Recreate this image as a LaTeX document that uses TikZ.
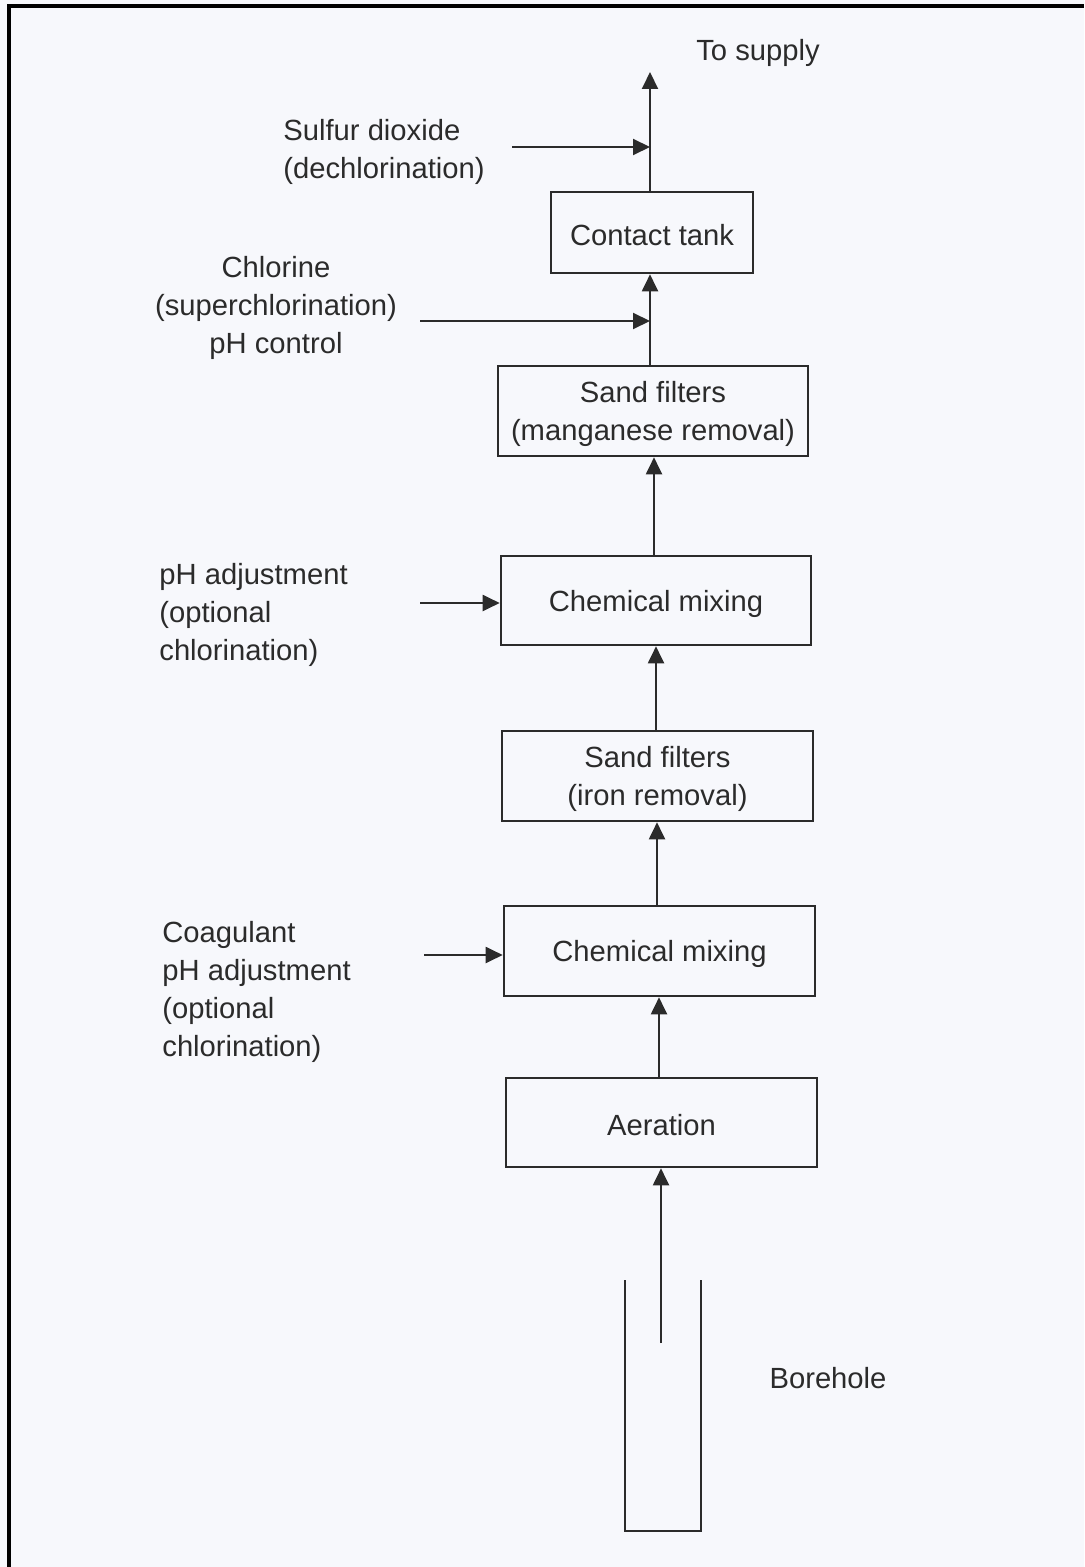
\documentclass[tikz,border=0pt]{standalone}
\usepackage{fontspec}
\setmainfont{Liberation Sans}
\usetikzlibrary{arrows.meta}
\definecolor{bg}{HTML}{F7F8FC}
\definecolor{ink}{HTML}{2B2B2B}
\begin{document}
\begin{tikzpicture}[x=0.5pt,y=-0.5pt,
  txt/.style={font=\fontsize{14.6}{19}\selectfont, text=ink, inner sep=0pt, yshift=-1.5pt},
  box/.style={draw=ink, line width=1.3pt, inner sep=0pt},
  inbox/.style={label={[txt,align=center]center:{#1}}},
  arr/.style={draw=ink, line width=1pt, -{Triangle[length=8.5pt,width=8pt]}},
  ln/.style={draw=ink, line width=1pt}]
\fill[bg] (0,0) rectangle (1084,1567);
\useasboundingbox (0,0) rectangle (1084,1567);
\draw[line width=1.6pt, black] (9,1567) -- (9,6) -- (1084,6);

% boxes
\node[box, minimum width=101pt, minimum height=40.5pt, inbox={Contact tank}] (ct) at (652,232.5) {};
\node[box, minimum width=155pt, minimum height=45pt, inbox={Sand filters\\(manganese removal)}] (sf1) at (653,411) {};
\node[box, minimum width=155pt, minimum height=44.5pt, inbox={Chemical mixing}] (cm1) at (656,600.5) {};
\node[box, minimum width=155.5pt, minimum height=45pt, inbox={Sand filters\\(iron removal)}] (sf2) at (657.5,776) {};
\node[box, minimum width=155.5pt, minimum height=45pt, inbox={Chemical mixing}] (cm2) at (659.5,951) {};
\node[box, minimum width=155.5pt, minimum height=44.5pt, inbox={Aeration}] (aer) at (661.5,1122.5) {};

% labels
\node[txt] (sup) at (758,50) {To supply};
\node[txt, anchor=west, align=left] (so2) at (283,148.5) {Sulfur dioxide\\(dechlorination)};
\node[txt, align=center] (cl) at (276,304.5) {Chlorine\\(superchlorination)\\pH control};
\node[txt, anchor=west, align=left] (ph1) at (159,611.5) {pH adjustment\\(optional\\chlorination)};
\node[txt, anchor=west, align=left] (coag) at (162,988.5) {Coagulant\\pH adjustment\\(optional\\chlorination)};
\node[txt] (bh) at (828,1375) {Borehole};

% main flow
\coordinate (top) at (650,72);
\draw[arr] (ct.north -| top) -- (top);
\draw[arr] (sf1.north -| 650,0) -- (650,0 |- ct.south);
\draw[arr] (cm1.north -| 654,0) -- (654,0 |- sf1.south);
\draw[arr] (sf2.north -| 656,0) -- (656,0 |- cm1.south);
\draw[arr] (cm2.north -| 657,0) -- (657,0 |- sf2.south);
\draw[arr] (aer.north -| 659,0) -- (659,0 |- cm2.south);

% borehole
\coordinate (bl) at (625,1280);
\coordinate (br) at (701,1280);
\coordinate (bs) at (661,1343);
\draw[ln, line width=1.3pt] (bl) -- (625,1531) -- (701,1531) -- (br);
\draw[arr] (bs) -- (bs |- aer.south);

% side inputs
\coordinate (a1) at (512,147);
\draw[arr] (a1) -- (650,147);
\coordinate (a2) at (420,321);
\draw[arr] (a2) -- (650,321);
\coordinate (a3) at (420,603);
\draw[arr] (a3) -- (a3 -| cm1.west);
\coordinate (a4) at (424,955);
\draw[arr] (a4) -- (a4 -| cm2.west);
\end{tikzpicture}
\end{document}
